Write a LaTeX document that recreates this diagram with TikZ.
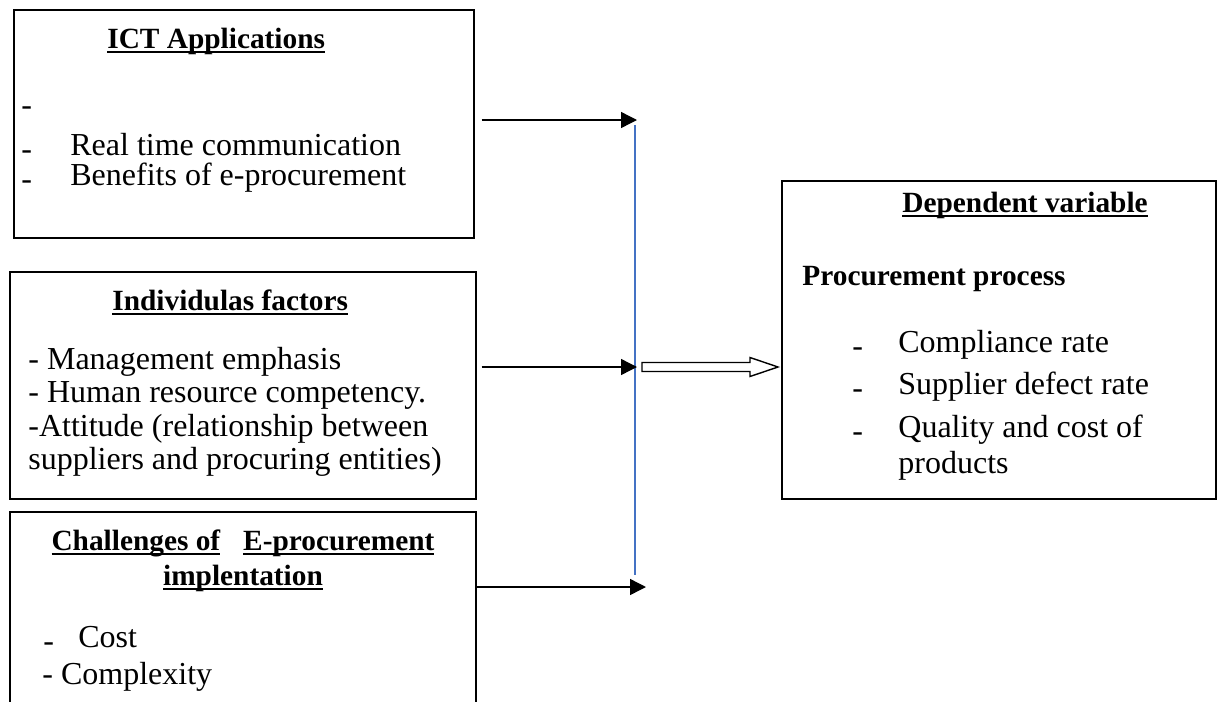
\documentclass[tikz,border=0pt]{standalone}
\usepackage{fontspec}
\setmainfont{Liberation Serif}
\usetikzlibrary{arrows.meta, calc}
\definecolor{barblue}{HTML}{4472C4}
\newcommand{\lowdash}{\raisebox{-2pt}{-}}
\newcommand{\ulword}[1]{\setbox0\hbox{#1}\rlap{\rule[-2.3pt]{\wd0}{0.7pt}}\box0}

\begin{document}
\begin{tikzpicture}[
      x=0.5pt,
      y=-0.5pt,
      frame/.style={
          rectangle,
          draw,
          line width=0.75pt,
          anchor=north west,
          inner sep=0pt
        },
      item/.style={
          anchor=base west,
          inner sep=0pt,
          font=\fontsize{16}{18}\selectfont
        },
      head/.style={
          anchor=base west,
          inner sep=0pt,
          font=\fontsize{14.67}{17}\selectfont\bfseries
        },
      arrow/.style={
          -{Triangle[length=8pt, width=8pt]},
          line width=0.7pt
        },
      bar/.style={
          draw=barblue,
          line width=0.6pt
        },
      hollow/.style={
          draw,
          line width=0.7pt,
          line join=miter
        }
    ]

    \useasboundingbox (0,0) rectangle (1217,702);
    \clip (0,0) rectangle (1217,702);

    % Boxes
    \node[frame, minimum width=230pt, minimum height=114pt] (ict) at (13,9) {};
    \node[frame, minimum width=233pt, minimum height=113.5pt] (indiv) at (9,271) {};
    \node[frame, minimum width=233pt, minimum height=110pt] (chall) at (9,511) {};
    \node[frame, minimum width=217pt, minimum height=159pt] (dep) at (781,180) {};

    % Texts
    \node[head] (ict-head) at (107,48) {\ulword{ICT Applications}};
    \node[item] (ict-1) at (21,115) {-};
    \node[item] (ict-2) at (21,155) {\makebox[24.5pt][l]{\lowdash}Real time communication};
    \node[item] (ict-3) at (21,185) {\makebox[24.5pt][l]{\lowdash}Benefits of e-procurement};

    \node[head] (indiv-head) at (112,310) {\ulword{Individulas factors}};
    \node[item] (indiv-1) at (28,369) {- Management emphasis};
    \node[item] (indiv-2) at (28,402) {- Human resource competency.};
    \node[item] (indiv-3) at (28,436) {-Attitude (relationship between};
    \node[item] (indiv-4) at (28,469) {suppliers and procuring entities)};

    \node[head, anchor=base] (chall-head) at (243,550) {\ulword{Challenges of}\hspace{11.5pt}\ulword{E-procurement}};
    \node[head, anchor=base] (chall-head2) at (243,585) {\ulword{implentation}};
    \node[item] (chall-1) at (43,647) {\makebox[17.5pt][l]{\lowdash}Cost};
    \node[item] (chall-2) at (42,684) {- Complexity};

    \node[head] (dep-head) at (902,212) {\ulword{Dependent variable}};
    \node[head] (dep-sub) at (802,285) {Procurement process};
    \node[item] (dep-1) at (852,352) {\makebox[23pt][l]{\lowdash}Compliance rate};
    \node[item] (dep-2) at (852,394) {\makebox[23pt][l]{\lowdash}Supplier defect rate};
    \node[item] (dep-3) at (852,437) {\makebox[23pt][l]{\lowdash}Quality and cost of};
    \node[item] (dep-4) at (898,473) {products};

    % Junction
    \coordinate (in-ict) at (637,120);
    \coordinate (in-indiv) at (637,367);
    \coordinate (in-chall) at (646,587);
    \coordinate (bar-top) at (635,125);
    \coordinate (bar-bot) at (635,575);
    \coordinate (out) at (642,367);
    \coordinate (out-tip) at ([xshift=-1.5pt]dep.west |- out);

    % Arrows
    \draw[bar] (bar-top) -- (bar-bot);
    \draw[arrow] (ict.east |- in-ict) ++(3.5pt,0) -- (in-ict);
    \draw[arrow] (indiv.east |- in-indiv) ++(2.5pt,0) -- (in-indiv);
    \draw[arrow] (chall.east |- in-chall) -- (in-chall);
    \draw[hollow] ($(out)+(0,-4.5)$) -- ($(out-tip)+(-28,-4.5)$) -- ($(out-tip)+(-28,-9.5)$)
      -- (out-tip) -- ($(out-tip)+(-28,9.5)$) -- ($(out-tip)+(-28,4.5)$) -- ($(out)+(0,4.5)$) -- cycle;
  \end{tikzpicture}
\end{document}
